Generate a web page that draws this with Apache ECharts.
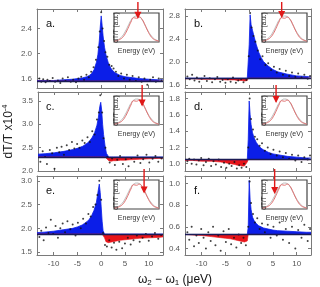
<!DOCTYPE html>
<html><head><meta charset="utf-8">
<script src="https://cdn.jsdelivr.net/npm/echarts@6/dist/echarts.min.js"></script>
<style>html,body{margin:0;padding:0;background:#fff}#c{width:320px;height:287px}</style>
</head><body><div id="c"></div><script>
// ---------- data ----------
const panelLabels = ['a.','b.','c.','d.','e.','f.'];
const xTicks = [-10,-5,0,5,10];
const curveX = [-13.5,-12,-10,-8,-6,-5,-4,-3,-2.5,-2,-1.5,-1,-0.7,-0.4,-0.2,0,0.2,0.4,0.7,1,1.5,2,2.5,3,4,5,6,8,10,12,13];
const curveA = [1.57,1.57,1.57,1.58,1.59,1.60,1.61,1.63,1.65,1.68,1.74,1.86,1.98,2.20,2.42,2.60,2.45,2.28,2.10,1.98,1.85,1.77,1.72,1.69,1.65,1.63,1.62,1.60,1.59,1.58,1.58];
const curveB = [1.71,1.71,1.70,1.70,1.70,1.69,1.69,1.69,1.68,1.68,1.68,1.67,1.67,1.68,1.75,2.30,2.82,2.65,2.55,2.45,2.30,2.17,2.08,2.01,1.93,1.87,1.83,1.79,1.76,1.75,1.74];
const curveC = [2.36,2.37,2.39,2.42,2.46,2.49,2.53,2.60,2.65,2.72,2.82,2.98,3.15,3.38,3.47,3.30,3.00,2.78,2.55,2.38,2.22,2.21,2.22,2.22,2.23,2.23,2.24,2.25,2.26,2.27,2.27];
const curveD = [1.04,1.04,1.03,1.03,1.02,1.01,1.00,0.99,0.98,0.98,0.97,0.97,0.98,1.02,1.30,1.77,1.60,1.48,1.38,1.32,1.26,1.22,1.19,1.17,1.14,1.12,1.11,1.09,1.08,1.07,1.07];
const curveE = [1.91,1.92,1.94,1.97,2.00,2.03,2.07,2.14,2.19,2.27,2.38,2.55,2.75,2.93,2.75,2.45,2.15,1.95,1.80,1.72,1.70,1.71,1.72,1.73,1.75,1.76,1.77,1.79,1.80,1.81,1.82];
const curveF = [0.53,0.525,0.52,0.51,0.50,0.495,0.49,0.48,0.475,0.47,0.465,0.46,0.455,0.47,0.60,1.03,0.85,0.76,0.69,0.66,0.63,0.61,0.60,0.59,0.58,0.57,0.565,0.56,0.555,0.55,0.55];
const baseLines = [1.56,1.72,2.30,1.05,1.88,0.53];
const yMins = [1.45,1.55,2.0,0.91,1.44,0.34];
const yMaxs = [2.71,2.92,3.69,1.88,3.10,1.07];
const yTicks = [[1.6,2.0,2.4],[1.6,2.0,2.4,2.8],[2.0,2.5,3.0,3.5],[1.0,1.2,1.4,1.6,1.8],[1.5,2.0,2.5,3.0],[0.4,0.6,0.8,1.0]];
const dotsA = [[-13,1.6],[-12.6,1.55],[-12.2,1.59],[-11.7,1.54],[-11.3,1.58],[-10.8,1.56],[-10.2,1.61],[-9.7,1.55],[-9.1,1.57],[-8.6,1.53],[-8.1,1.6],[-7.5,1.56],[-7,1.62],[-6.4,1.55],[-5.9,1.58],[-5.3,1.54],[-4.8,1.6],[-4.2,1.63],[-3.6,1.58],[-3.1,1.66],[-2.6,1.62],[-2.1,1.71],[-1.6,1.78],[-1.1,1.9],[-0.6,2.1],[-0.3,2.35],[0,2.66],[0.3,2.4],[0.6,2.2],[0.9,2.02],[1.3,1.95],[1.7,1.82],[2.2,1.8],[2.6,1.76],[3.1,1.71],[3.6,1.64],[4.2,1.68],[4.8,1.6],[5.4,1.66],[6,1.58],[6.6,1.64],[7.3,1.56],[7.9,1.62],[8.5,1.55],[9.1,1.6],[9.7,1.5],[10.3,1.58],[10.9,1.62],[11.5,1.55],[12.1,1.6],[12.7,1.57]];
const dotsB = [[-13,1.75],[-12.5,1.7],[-12,1.78],[-11.5,1.68],[-11,1.73],[-10.5,1.66],[-10,1.71],[-9.4,1.76],[-8.9,1.67],[-8.3,1.72],[-7.8,1.65],[-7.2,1.7],[-6.7,1.74],[-6.1,1.66],[-5.6,1.69],[-5,1.64],[-4.5,1.7],[-3.9,1.66],[-3.4,1.73],[-2.8,1.64],[-2.3,1.68],[-1.7,1.7],[-1.2,1.65],[-0.6,1.69],[-0.1,2.1],[0.2,2.85],[0.5,2.6],[0.9,2.45],[1.3,2.35],[1.8,2.2],[2.3,2.05],[2.8,2.1],[3.4,1.95],[4,1.98],[4.6,1.86],[5.2,1.92],[5.8,1.82],[6.4,1.88],[7.1,1.78],[7.7,1.85],[8.4,1.76],[9,1.82],[9.7,1.74],[10.3,1.8],[11,1.73],[11.6,1.78],[12.3,1.71],[12.8,1.76]];
const dotsC = [[-13,2.2],[-12.5,2.42],[-12,2.3],[-11.6,2.15],[-11,2.45],[-10.5,2.38],[-10,2.05],[-9.5,2.5],[-9,2.4],[-8.5,2.52],[-8,2.35],[-7.4,2.55],[-6.9,2.45],[-6.3,2.62],[-5.8,2.48],[-5.2,2.58],[-4.7,2.5],[-4.1,2.65],[-3.6,2.6],[-3,2.72],[-2.5,2.62],[-2,2.85],[-1.5,2.78],[-1,3.1],[-0.6,3.25],[-0.3,3.62],[0.1,3.25],[0.4,2.7],[0.8,2.5],[1.2,2.3],[1.7,2.18],[2.2,2.27],[2.8,2.13],[3.3,2.24],[3.9,2.32],[4.5,2.15],[5.1,2.25],[5.7,2.1],[6.3,2.28],[6.9,2.2],[7.6,2.33],[8.2,2.17],[8.8,2.25],[9.5,2.35],[10.1,2.18],[10.8,2.26],[11.4,2.32],[12,2.2],[12.7,2.27]];
const dotsD = [[-13,1.03],[-12.6,1.06],[-12.1,1.0],[-11.6,1.05],[-11.1,0.99],[-10.6,1.04],[-10.1,1.07],[-9.6,0.98],[-9.1,1.02],[-8.5,1.06],[-8,0.97],[-7.5,1.03],[-7,0.99],[-6.4,1.05],[-5.9,0.96],[-5.3,1.01],[-4.8,0.95],[-4.2,1.0],[-3.7,0.97],[-3.1,1.02],[-2.6,0.94],[-2.1,0.98],[-1.6,0.95],[-1.1,1.0],[-0.6,0.96],[-0.2,1.2],[0.1,1.8],[0.4,1.55],[0.8,1.42],[1.2,1.33],[1.7,1.3],[2.2,1.22],[2.7,1.25],[3.3,1.16],[3.9,1.2],[4.5,1.12],[5.1,1.17],[5.8,1.1],[6.4,1.15],[7.1,1.08],[7.7,1.13],[8.4,1.06],[9,1.11],[9.7,1.04],[10.3,1.1],[11,1.02],[11.6,1.08],[12.3,1.05],[12.8,1.1]];
const dotsE = [[-13,1.82],[-12.6,1.95],[-12.1,1.75],[-11.6,2.02],[-11.1,1.9],[-10.6,2.18],[-10.1,1.88],[-9.6,2.05],[-9.1,1.8],[-8.6,2.0],[-8.1,2.1],[-7.6,1.92],[-7.1,2.15],[-6.5,1.98],[-6,2.08],[-5.4,1.85],[-4.9,2.12],[-4.3,2.0],[-3.8,2.2],[-3.2,2.1],[-2.7,2.3],[-2.2,2.25],[-1.7,2.45],[-1.2,2.5],[-0.8,2.7],[-0.4,3.0],[0,2.6],[0.4,1.9],[0.8,1.65],[1.2,1.62],[1.7,1.75],[2.2,1.6],[2.7,1.7],[3.2,1.55],[3.8,1.72],[4.4,1.58],[5,1.68],[5.6,1.8],[6.2,1.66],[6.8,1.75],[7.5,1.85],[8.1,1.72],[8.7,1.8],[9.4,1.88],[10,1.74],[10.7,1.83],[11.3,1.9],[12,1.78],[12.6,1.86]];
const dotsF = [[-13,0.55],[-12.6,0.48],[-12.1,0.6],[-11.6,0.42],[-11.1,0.52],[-10.6,0.45],[-10.1,0.58],[-9.6,0.5],[-9.1,0.4],[-8.6,0.55],[-8.1,0.47],[-7.6,0.6],[-7.1,0.43],[-6.5,0.52],[-6,0.38],[-5.4,0.56],[-4.9,0.46],[-4.3,0.58],[-3.8,0.44],[-3.2,0.5],[-2.7,0.41],[-2.2,0.53],[-1.7,0.45],[-1.2,0.5],[-0.7,0.43],[-0.2,0.6],[0.1,1.02],[0.4,0.82],[0.8,0.72],[1.2,0.64],[1.7,0.68],[2.2,0.58],[2.7,0.63],[3.3,0.55],[3.9,0.62],[4.5,0.5],[5.1,0.6],[5.8,0.52],[6.4,0.64],[7.1,0.48],[7.7,0.58],[8.4,0.45],[9,0.6],[9.7,0.4],[10.3,0.57],[11,0.5],[11.6,0.62],[12.3,0.47],[12.8,0.58]];
const insetEnergy = [0,1,2,3,4,5,6,7,8,9,10,11,12,13,14,15,16];
const insetRed  = [0.03,0.05,0.09,0.16,0.30,0.50,0.72,0.88,0.86,0.90,0.82,0.62,0.40,0.22,0.11,0.06,0.03];
const insetGrey = [0.04,0.07,0.12,0.22,0.38,0.58,0.78,0.90,0.94,0.92,0.80,0.62,0.42,0.26,0.14,0.07,0.04];
const arrowEnergy = [8.5,7,10,5,10.7,4.5];
const arrowLevel  = [0.9,0.92,0.72,0.85,0.62,0.6];
const arrowTop = 1.45;

const curves = [curveA,curveB,curveC,curveD,curveE,curveF];
const dots = [dotsA,dotsB,dotsC,dotsD,dotsE,dotsF];

// ---------- layout ----------
const colLeft = [37,185], colW = 126;
const rowTop = [9,92,176], rowH = 79;
const inW = 45, inH = 29, inRight = 4, inTop = 4;
const BLUE = '#0b1ee8', RED = '#e8141a', FRAME = '#7a7a7a';
const FONT = 'Liberation Sans';

const grid = [], xAxis = [], yAxis = [], series = [], title = [];
for (let i=0;i<6;i++){
  const L = colLeft[i%2], T = rowTop[Math.floor(i/2)];
  grid.push({left:L, top:T, width:colW, height:rowH});
  const bottomRow = i>=4;
  const tickStyle = {show:true, inside:true, length:3, lineStyle:{color:FRAME}};
  xAxis.push({type:'value', gridIndex:i, min:-13.5, max:13, position:'bottom',
    axisLine:{show:true, onZero:false, lineStyle:{color:FRAME}},
    axisTick:Object.assign({customValues:xTicks}, tickStyle),
    axisLabel:{show:bottomRow, customValues:xTicks, color:'#555', fontSize:8, fontFamily:FONT, margin:5},
    splitLine:{show:false}});
  xAxis.push({type:'value', gridIndex:i, min:-13.5, max:13, position:'top',
    axisLine:{show:true, onZero:false, lineStyle:{color:FRAME}},
    axisTick:Object.assign({customValues:xTicks}, tickStyle),
    axisLabel:{show:false}, splitLine:{show:false}});
  const yl = {type:'value', gridIndex:i, min:yMins[i], max:yMaxs[i], position:'left',
    axisLine:{show:true, onZero:false, lineStyle:{color:FRAME}},
    axisTick:Object.assign({customValues:yTicks[i]}, tickStyle),
    axisLabel:{show:true, customValues:yTicks[i], color:'#555', fontSize:8, fontFamily:FONT, margin:5,
      formatter:v=>v.toFixed(1)},
    splitLine:{show:false}};
  if (i===2){
    yl.name = '{m|dT/T x10}{s|-4}';
    yl.nameLocation = 'middle';
    yl.nameGap = 22;
    yl.nameTextStyle = {rich:{m:{fontSize:12, fontFamily:FONT, color:'#222'}, s:{fontSize:7.5, fontFamily:FONT, color:'#222', padding:[0,0,7,0]}}};
  }
  yAxis.push(yl);
  yAxis.push({type:'value', gridIndex:i, min:yMins[i], max:yMaxs[i], position:'right',
    axisLine:{show:true, onZero:false, lineStyle:{color:FRAME}},
    axisTick:Object.assign({customValues:yTicks[i]}, tickStyle),
    axisLabel:{show:false}, splitLine:{show:false}});
  title.push({text:panelLabels[i], left:L+4, top:T+4, textStyle:{fontSize:11, fontWeight:'normal', fontFamily:FONT, color:'#111'}});

  const base = baseLines[i], c = curves[i];
  series.push({type:'line', xAxisIndex:2*i, yAxisIndex:2*i, symbol:'none', silent:true,
    data: curveX.map((x,k)=>[x, Math.max(c[k], base)]),
    lineStyle:{color:BLUE, width:0.8}, areaStyle:{color:BLUE, opacity:1, origin:base}, z:2});
  series.push({type:'line', xAxisIndex:2*i, yAxisIndex:2*i, symbol:'none', silent:true,
    data: curveX.map((x,k)=>[x, Math.min(c[k], base)]),
    lineStyle:{color:RED, width:0.6}, areaStyle:{color:RED, opacity:1, origin:base}, z:2,
    markLine:{silent:true, symbol:'none', label:{show:false}, lineStyle:{color:'#1b1b55', width:1.4, type:'solid'}, data:[{yAxis:base}]}});
  series.push({type:'scatter', xAxisIndex:2*i, yAxisIndex:2*i, symbolSize:2, silent:true,
    itemStyle:{color:'#111'}, data:dots[i], z:4});
}
// insets
for (let i=0;i<6;i++){
  const L = colLeft[i%2], T = rowTop[Math.floor(i/2)];
  const gi = 6+i;
  grid.push({left:L+colW-inRight-inW, top:T+inTop, width:inW, height:inH, show:true,
    backgroundColor:'#fff', borderColor:'#444', borderWidth:1.2, z:5});
  xAxis.push({type:'value', gridIndex:gi, min:0, max:16, name:'Energy (eV)', nameLocation:'middle', nameGap:6,
    nameTextStyle:{fontSize:7, fontFamily:FONT, color:'#333'},
    axisLine:{show:false}, axisTick:{show:false}, axisLabel:{show:false}, splitLine:{show:false}, z:6});
  yAxis.push({type:'value', gridIndex:gi, min:0, max:1.05, name:'dT/T (a.u.)', nameLocation:'middle', nameGap:-5.5,
    nameTextStyle:{fontSize:6.5, fontFamily:FONT, color:'#222'},
    axisLine:{show:false}, axisTick:{show:false}, axisLabel:{show:false}, splitLine:{show:false}, z:8});
  series.push({type:'line', xAxisIndex:12+i, yAxisIndex:12+i, symbol:'none', smooth:true, silent:true, z:6,
    data: insetEnergy.map((e,k)=>[e, insetGrey[k]]), lineStyle:{color:'#b0b0b0', width:0.9}});
  series.push({type:'line', xAxisIndex:12+i, yAxisIndex:12+i, symbol:'none', smooth:true, silent:true, z:6,
    data: insetEnergy.map((e,k)=>[e, insetRed[k]]), lineStyle:{color:'#e07070', width:1}});
  series.push({type:'line', xAxisIndex:12+i, yAxisIndex:12+i, clip:false, silent:true, z:7,
    data:[{value:[arrowEnergy[i], arrowTop], symbol:'none'},
          {value:[arrowEnergy[i], arrowLevel[i]], symbol:'triangle', symbolRotate:180, symbolSize:[7,7], symbolOffset:[0,-2]}],
    showSymbol:true, itemStyle:{color:'#e01818'}, lineStyle:{color:'#e01818', width:1.4}});
}

const chart = echarts.init(document.getElementById('c'), null, {renderer:'canvas'});
chart.setOption({
  animation:false, backgroundColor:'#fff',
  title, grid, xAxis, yAxis, series,
  graphic:[{type:'text', x:175, y:280, style:{
    text:'{w|ω}{s|2}{w| − ω}{s|1}{w| (μeV)}', align:'center', verticalAlign:'middle',
    rich:{w:{fontSize:12, fontFamily:FONT, fill:'#111'}, s:{fontSize:8, fontFamily:FONT, fill:'#111', padding:[6,0,0,0]}}}}]
});
</script></body></html>
